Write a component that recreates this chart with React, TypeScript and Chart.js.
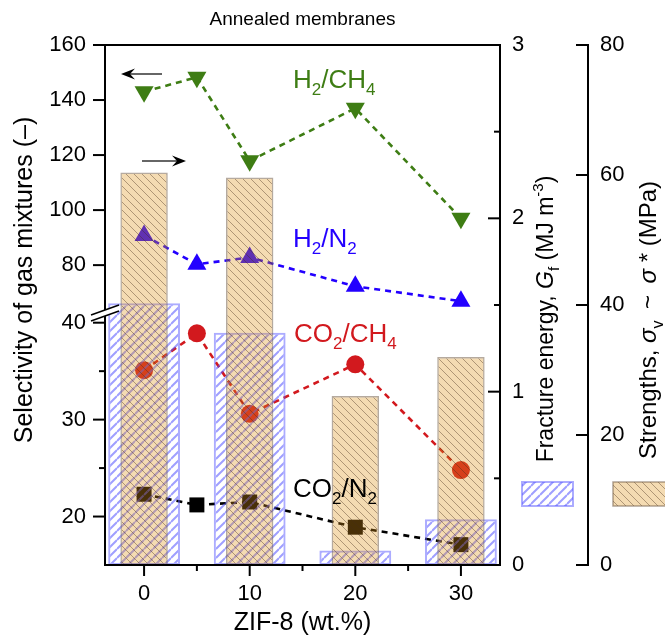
import React, { useEffect, useRef } from 'react';
import { Chart, registerables } from 'chart.js';
Chart.register(...registerables);

// ---------- data ----------
const zifLoading = [0, 5, 10, 20, 30];
const h2ch4 = [143.0, 148.3, 117.9, 137.0, 97.0];
const h2n2 = [90.8, 80.3, 82.8, 72.3, 66.9];
const co2ch4 = [35.1, 38.9, 30.6, 35.7, 24.8];
const co2n2 = [22.3, 21.2, 21.5, 18.9, 17.1];
const barLoading = [0, 10, 20, 30];
const fractureEnergy = [1.51, 1.34, 0.083, 0.264];
const strengths = [60.4, 59.6, 26.0, 32.0];
const xMajorTicks = [0, 10, 20, 30];
const xMinorTicks = [5, 15, 25];
const leftMajorTicks = [20, 30, 40, 80, 100, 120, 140, 160];
const leftMinorTicks = [25, 35];
const fractureMajorTicks = [0, 1, 2, 3];
const fractureMinorTicks = [0.5, 1.5, 2.5];
const strengthTicks = [0, 20, 40, 60, 80];

// ---------- broken left axis ----------
const LOW_MIN = 15;
const LOW_MAX = 41;
const HIGH_MIN = 62.6;
const HIGH_MAX = 160;
const HIGH_SCALE = 0.2839;
const brk = (v: number) => (v <= LOW_MAX ? v : LOW_MAX + (v - HIGH_MIN) * HIGH_SCALE);

const FONT = '"Liberation Sans", Arial, sans-serif';
const GREEN = 'rgb(62,125,20)';
const BLUE = 'rgb(35,0,255)';
const RED = 'rgb(210,25,30)';
const BLACK = '#000';

function makeHatch(size: number, bg: string | null, stroke: string, lw: number, dir: 'back' | 'fwd') {
  const c = document.createElement('canvas');
  c.width = size;
  c.height = size;
  const g = c.getContext('2d')!;
  if (bg) {
    g.fillStyle = bg;
    g.fillRect(0, 0, size, size);
  }
  g.strokeStyle = stroke;
  g.lineWidth = lw;
  g.beginPath();
  for (const k of [-1, 0, 1]) {
    if (dir === 'back') {
      g.moveTo(0, k * size);
      g.lineTo(size, k * size + size);
    } else {
      g.moveTo(0, k * size + size);
      g.lineTo(size, k * size);
    }
  }
  g.stroke();
  return g.createPattern(c, 'repeat')!;
}

type Seg = { t: string; sub?: boolean; sup?: boolean; it?: boolean };

function drawRich(
  ctx: CanvasRenderingContext2D,
  segs: Seg[],
  x: number,
  y: number,
  size: number,
  color: string,
  align: 'left' | 'center',
  rotate = 0
) {
  const small = Math.round(size * 0.66);
  const fontOf = (s: Seg) => `${s.it ? 'italic ' : ''}${s.sub || s.sup ? small : size}px ${FONT}`;
  ctx.save();
  ctx.translate(x, y);
  if (rotate) ctx.rotate(rotate);
  ctx.fillStyle = color;
  ctx.textBaseline = 'alphabetic';
  ctx.textAlign = 'left';
  let total = 0;
  const widths = segs.map((s) => {
    ctx.font = fontOf(s);
    const w = ctx.measureText(s.t).width;
    total += w;
    return w;
  });
  let cx = align === 'center' ? -total / 2 : 0;
  segs.forEach((s, i) => {
    ctx.font = fontOf(s);
    const dy = s.sub ? size * 0.28 : s.sup ? -size * 0.42 : 0;
    ctx.fillText(s.t, cx, dy);
    cx += widths[i];
  });
  ctx.restore();
}

function line(ctx: CanvasRenderingContext2D, x1: number, y1: number, x2: number, y2: number) {
  ctx.beginPath();
  ctx.moveTo(x1, y1);
  ctx.lineTo(x2, y2);
  ctx.stroke();
}

function arrow(ctx: CanvasRenderingContext2D, xFrom: number, xTo: number, y: number) {
  const dir = Math.sign(xTo - xFrom);
  ctx.save();
  ctx.strokeStyle = '#333';
  ctx.lineWidth = 1.6;
  line(ctx, xFrom, y, xTo - dir * 8, y);
  ctx.fillStyle = '#000';
  ctx.beginPath();
  ctx.moveTo(xTo, y);
  ctx.lineTo(xTo - dir * 14, y - 5.5);
  ctx.lineTo(xTo - dir * 9, y);
  ctx.lineTo(xTo - dir * 14, y + 5.5);
  ctx.closePath();
  ctx.fill();
  ctx.restore();
}

export default function App() {
  const ref = useRef<HTMLCanvasElement>(null);

  useEffect(() => {
    document.body.style.margin = '0';
    const canvas = ref.current!;
    const tanPattern = makeHatch(8, 'rgba(222,145,20,0.33)', 'rgba(70,45,25,0.4)', 1, 'back');
    const bluePattern = makeHatch(9, null, 'rgba(80,80,255,0.55)', 2, 'fwd');

    const decor = {
      id: 'decor',
      afterDatasetsDraw(chart: any) {
        const ctx: CanvasRenderingContext2D = chart.ctx;
        const { left, right, top, bottom } = chart.chartArea;
        const sx = chart.scales.x;
        const sy = chart.scales.y;
        const s1 = chart.scales.y1;
        const s2 = chart.scales.y2;
        ctx.save();
        ctx.strokeStyle = BLACK;
        ctx.lineWidth = 2;
        // frame
        ctx.strokeRect(left, top, right - left, bottom - top);
        // x ticks
        xMajorTicks.forEach((v) => line(ctx, sx.getPixelForValue(v), bottom, sx.getPixelForValue(v), bottom + 11));
        xMinorTicks.forEach((v) => line(ctx, sx.getPixelForValue(v), bottom, sx.getPixelForValue(v), bottom + 6));
        // left ticks
        leftMajorTicks.forEach((v) => line(ctx, left - 12, sy.getPixelForValue(brk(v)), left, sy.getPixelForValue(brk(v))));
        leftMinorTicks.forEach((v) => line(ctx, left - 6, sy.getPixelForValue(brk(v)), left, sy.getPixelForValue(brk(v))));
        // fracture ticks (inward)
        fractureMajorTicks.forEach((v) => line(ctx, right - 12, s1.getPixelForValue(v), right, s1.getPixelForValue(v)));
        fractureMinorTicks.forEach((v) => line(ctx, right - 6, s1.getPixelForValue(v), right, s1.getPixelForValue(v)));
        // strength axis
        const ax = s2.left;
        line(ctx, ax, s2.getPixelForValue(80) - 1, ax, s2.getPixelForValue(0) + 1);
        strengthTicks.forEach((v) => line(ctx, ax - 12, s2.getPixelForValue(v), ax, s2.getPixelForValue(v)));

        // axis break
        const yb = sy.getPixelForValue(LOW_MAX);
        const w = 14;
        const sl = 5;
        ctx.fillStyle = '#fff';
        ctx.beginPath();
        ctx.moveTo(left - w, yb - 3 + sl);
        ctx.lineTo(left + w, yb - 3 - sl);
        ctx.lineTo(left + w, yb + 3 - sl);
        ctx.lineTo(left - w, yb + 3 + sl);
        ctx.closePath();
        ctx.fill();
        ctx.lineWidth = 1.5;
        line(ctx, left - w, yb - 3 + sl, left + w, yb - 3 - sl);
        line(ctx, left - w, yb + 3 + sl, left + w, yb + 3 - sl);

        // series annotations
        drawRich(ctx, [{ t: 'H' }, { t: '2', sub: true }, { t: '/CH' }, { t: '4', sub: true }], 293, 88, 26, GREEN, 'left');
        drawRich(ctx, [{ t: 'H' }, { t: '2', sub: true }, { t: '/N' }, { t: '2', sub: true }], 293, 247, 26, BLUE, 'left');
        drawRich(ctx, [{ t: 'CO' }, { t: '2', sub: true }, { t: '/CH' }, { t: '4', sub: true }], 294, 342, 26, RED, 'left');
        drawRich(ctx, [{ t: 'CO' }, { t: '2', sub: true }, { t: '/N' }, { t: '2', sub: true }], 293, 497, 26, BLACK, 'left');

        // arrows
        arrow(ctx, 162, 121, 74);
        arrow(ctx, 142, 186, 161);

        // titles
        drawRich(ctx, [{ t: 'Annealed membranes' }], (left + right) / 2, 25, 19, BLACK, 'center');
        drawRich(ctx, [{ t: 'ZIF-8 (wt.%)' }], (left + right) / 2, 630, 25, BLACK, 'center');
        drawRich(ctx, [{ t: 'Selectivity of gas mixtures (\u2013)' }], 32, 280, 25, BLACK, 'center', -Math.PI / 2);
        drawRich(
          ctx,
          [
            { t: 'Fracture energy, ' },
            { t: 'G', it: true },
            { t: 'f', sub: true },
            { t: ' (MJ m' },
            { t: '-3', sup: true },
            { t: ')' },
          ],
          553,
          319,
          23,
          BLACK,
          'center',
          -Math.PI / 2
        );
        drawRich(
          ctx,
          [
            { t: 'Strengths, ' },
            { t: '\u03c3', it: true },
            { t: 'v', sub: true },
            { t: ' \u2009~\u2009 ' },
            { t: '\u03c3', it: true },
            { t: ' *' },
            { t: ' (MPa)' },
          ],
          656,
          320,
          24,
          BLACK,
          'center',
          -Math.PI / 2
        );

        // legend swatches
        ctx.fillStyle = bluePattern;
        ctx.fillRect(522, 482, 51, 24);
        ctx.strokeStyle = 'rgba(90,90,255,0.5)';
        ctx.lineWidth = 2;
        ctx.strokeRect(522, 482, 51, 24);
        ctx.fillStyle = tanPattern;
        ctx.fillRect(613, 482, 60, 24);
        ctx.strokeStyle = 'rgba(120,100,80,0.6)';
        ctx.lineWidth = 1.5;
        ctx.strokeRect(613, 482, 60, 24);
        ctx.restore();
      },
    };

    const tickFont = { family: FONT, size: 22 };
    const lineSeries = (label: string, vals: number[], color: string, style: string, radius: number, rotation: number, order: number) => ({
      type: 'line' as const,
      label,
      data: zifLoading.map((x, i) => ({ x, y: brk(vals[i]) })),
      xAxisID: 'x',
      yAxisID: 'y',
      borderColor: color,
      borderWidth: 2.6,
      borderDash: [6, 5],
      pointStyle: style,
      pointRadius: radius,
      pointRotation: rotation,
      pointBackgroundColor: color,
      pointBorderColor: color,
      pointBorderWidth: 0,
      tension: 0,
      fill: false,
      order,
    });

    const chart = new Chart(canvas, {
      type: 'bar',
      data: {
        datasets: [
          {
            type: 'bar',
            label: 'Strengths',
            data: barLoading.map((x, i) => ({ x, y: strengths[i] })),
            xAxisID: 'x',
            yAxisID: 'y2',
            backgroundColor: tanPattern,
            borderColor: 'rgba(120,100,80,0.55)',
            borderWidth: 1.5,
            borderSkipped: false,
            grouped: false,
            categoryPercentage: 1,
            barPercentage: 0.449,
            order: 0,
          } as any,
          {
            type: 'bar',
            label: 'Fracture energy',
            data: barLoading.map((x, i) => ({ x, y: fractureEnergy[i] })),
            xAxisID: 'x',
            yAxisID: 'y1',
            backgroundColor: bluePattern,
            borderColor: 'rgba(90,90,255,0.5)',
            borderWidth: 2,
            borderSkipped: false,
            grouped: false,
            categoryPercentage: 1,
            barPercentage: 0.68,
            order: 1,
          } as any,
          lineSeries('H2/CH4', h2ch4, GREEN, 'triangle', 11, 180, 2),
          lineSeries('H2/N2', h2n2, BLUE, 'triangle', 11, 0, 3),
          lineSeries('CO2/CH4', co2ch4, RED, 'circle', 9, 0, 4),
          lineSeries('CO2/N2', co2n2, BLACK, 'rect', 10.6, 0, 5),
        ],
      },
      options: {
        animation: false,
        responsive: false,
        devicePixelRatio: 1,
        layout: { padding: { top: 45, left: 0, right: 0, bottom: 0 } },
        plugins: { legend: { display: false }, tooltip: { enabled: false }, title: { display: false } },
        scales: {
          x: {
            type: 'linear',
            position: 'bottom',
            min: -3.7,
            max: 33.7,
            offset: false,
            grid: { display: false, drawTicks: false },
            border: { display: false },
            ticks: { font: tickFont, color: BLACK, padding: 16, autoSkip: false, maxRotation: 0 },
            afterBuildTicks: (s: any) => {
              s.ticks = xMajorTicks.map((v) => ({ value: v }));
            },
            afterFit: (s: any) => {
              s.height = 72;
            },
          },
          y: {
            type: 'linear',
            position: 'left',
            min: LOW_MIN,
            max: brk(HIGH_MAX),
            grid: { display: false, drawTicks: false },
            border: { display: false },
            ticks: {
              font: tickFont,
              color: BLACK,
              padding: 19,
              autoSkip: false,
              callback: (_v: any, i: number) => String(leftMajorTicks[i]),
            },
            afterBuildTicks: (s: any) => {
              s.ticks = leftMajorTicks.map((v) => ({ value: brk(v) }));
            },
            afterFit: (s: any) => {
              s.width = 105;
            },
          },
          y1: {
            type: 'linear',
            position: 'right',
            weight: 0,
            min: 0,
            max: 3,
            grid: { display: false, drawTicks: false },
            border: { display: false },
            ticks: { font: tickFont, color: BLACK, padding: 12, autoSkip: false },
            afterBuildTicks: (s: any) => {
              s.ticks = fractureMajorTicks.map((v) => ({ value: v }));
            },
            afterFit: (s: any) => {
              s.width = 88;
            },
          },
          y2: {
            type: 'linear',
            position: 'right',
            weight: 1,
            min: 0,
            max: 80,
            grid: { display: false, drawTicks: false },
            border: { display: false },
            ticks: { font: tickFont, color: BLACK, padding: 12, autoSkip: false },
            afterBuildTicks: (s: any) => {
              s.ticks = strengthTicks.map((v) => ({ value: v }));
            },
            afterFit: (s: any) => {
              s.width = 77;
            },
          },
        },
      } as any,
      plugins: [decor],
    });
    return () => chart.destroy();
  }, []);

  return (
    <div style={{ width: 665, height: 637, position: 'relative', background: '#fff' }}>
      <canvas ref={ref} width={665} height={637} style={{ display: 'block', width: 665, height: 637 }} />
    </div>
  );
}
